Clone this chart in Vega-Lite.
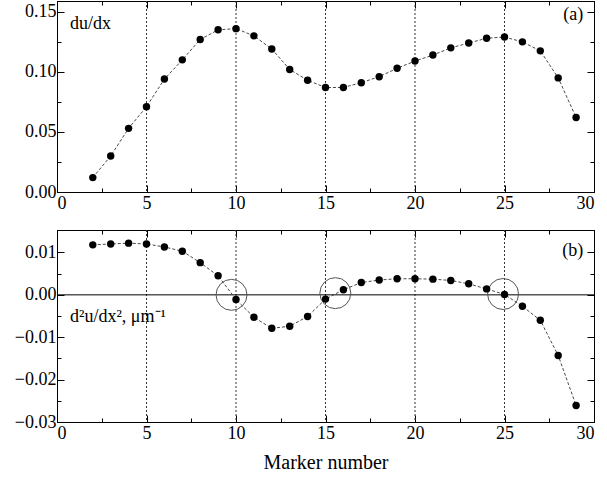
{
  "$schema": "https://vega.github.io/schema/vega-lite/v6.json",
  "autosize": {"type": "pad"},
  "padding": {"left": 13, "top": 0, "right": 5, "bottom": 3},
  "bounds": "flush",
  "spacing": 38,
  "config": {
    "view": {"stroke": "black", "strokeWidth": 1},
    "axis": {
      "labelFont": "Liberation Serif", "labelFontSize": 18, "labelColor": "black",
      "titleFont": "Liberation Serif", "titleFontSize": 20, "titleFontWeight": "normal", "titleColor": "black",
      "tickColor": "black", "domainColor": "black", "grid": false
    },
    "axisY": {"labelPadding": 8},
    "axisX": {"labelPadding": 9},
    "text": {"font": "Liberation Serif", "fontSize": 18, "color": "black"}
  },
  "datasets": {
    "du": [
      {"m": 2, "v": 0.012}, {"m": 3, "v": 0.030}, {"m": 4, "v": 0.053}, {"m": 5, "v": 0.071},
      {"m": 6, "v": 0.094}, {"m": 7, "v": 0.110}, {"m": 8, "v": 0.127}, {"m": 9, "v": 0.135},
      {"m": 10, "v": 0.136}, {"m": 11, "v": 0.130}, {"m": 12, "v": 0.119}, {"m": 13, "v": 0.102},
      {"m": 14, "v": 0.093}, {"m": 15, "v": 0.087}, {"m": 16, "v": 0.087}, {"m": 17, "v": 0.091},
      {"m": 18, "v": 0.096}, {"m": 19, "v": 0.103}, {"m": 20, "v": 0.109}, {"m": 21, "v": 0.114},
      {"m": 22, "v": 0.120}, {"m": 23, "v": 0.124}, {"m": 24, "v": 0.128}, {"m": 25, "v": 0.129},
      {"m": 26, "v": 0.125}, {"m": 27, "v": 0.1175}, {"m": 28, "v": 0.095}, {"m": 29, "v": 0.062}
    ],
    "d2u": [
      {"m": 2, "v": 0.0118}, {"m": 3, "v": 0.0120}, {"m": 4, "v": 0.0122}, {"m": 5, "v": 0.0120},
      {"m": 6, "v": 0.0113}, {"m": 7, "v": 0.0103}, {"m": 8, "v": 0.0076}, {"m": 9, "v": 0.0045},
      {"m": 10, "v": -0.0011}, {"m": 11, "v": -0.0053}, {"m": 12, "v": -0.0079}, {"m": 13, "v": -0.0074},
      {"m": 14, "v": -0.0051}, {"m": 15, "v": -0.0010}, {"m": 16, "v": 0.0012}, {"m": 17, "v": 0.0029},
      {"m": 18, "v": 0.0035}, {"m": 19, "v": 0.0038}, {"m": 20, "v": 0.0038}, {"m": 21, "v": 0.0037},
      {"m": 22, "v": 0.0034}, {"m": 23, "v": 0.0026}, {"m": 24, "v": 0.0014}, {"m": 25, "v": 0.0001},
      {"m": 26, "v": -0.0027}, {"m": 27, "v": -0.0060}, {"m": 28, "v": -0.0143}, {"m": 29, "v": -0.0261}
    ],
    "vgrid": [{"g": 5}, {"g": 10}, {"g": 15}, {"g": 20}, {"g": 25}],
    "zero": [{"z": 0}],
    "circles": [{"m": 9.75, "v": 0.0}, {"m": 15.55, "v": 0.0004}, {"m": 24.92, "v": 0.0002}],
    "labA1": [{"x": 0.73, "y": 0.14, "t": "du/dx"}],
    "labA2": [{"x": 29.4, "y": 0.1475, "t": "(a)"}],
    "labB1": [{"x": 0.73, "y": -0.0063, "t": "d²u/dx², μm⁻¹"}],
    "labB2": [{"x": 29.4, "y": 0.0104, "t": "(b)"}]
  },
  "vconcat": [
    {
      "width": 537, "height": 191,
      "layer": [
        {
          "data": {"name": "vgrid"},
          "mark": {"type": "rule", "color": "#333", "strokeDash": [2, 2], "strokeWidth": 1},
          "encoding": {
            "x": {"field": "g", "type": "quantitative", "scale": {"domain": [0, 30], "nice": false},
              "axis": {"orient": "bottom", "title": null, "values": [0, 2.5, 5, 7.5, 10, 12.5, 15, 17.5, 20, 22.5, 25, 27.5, 30],
                "labelExpr": "datum.value % 5 === 0 ? datum.label : ''",
                "tickSize": {"condition": {"test": "datum.value % 5 === 0", "value": -7}, "value": -4}}}
          }
        },
        {
          "data": {"name": "du"},
          "mark": {"type": "line", "color": "#333", "strokeWidth": 0.9, "strokeDash": [3, 2]},
          "encoding": {
            "x": {"field": "m", "type": "quantitative",
              "axis": {"orient": "top", "title": null, "labels": false, "values": [0, 2.5, 5, 7.5, 10, 12.5, 15, 17.5, 20, 22.5, 25, 27.5, 30],
                "tickSize": {"condition": {"test": "datum.value % 5 === 0", "value": -7}, "value": -4}}},
            "y": {"field": "v", "type": "quantitative", "scale": {"domain": [0, 0.159], "nice": false},
              "axis": {"orient": "left", "title": null, "format": ".2f", "values": [0, 0.025, 0.05, 0.075, 0.1, 0.125, 0.15],
                "labelExpr": "abs(datum.value*20 - round(datum.value*20)) < 1e-6 ? datum.label : ''",
                "tickSize": {"condition": {"test": "abs(datum.value*20 - round(datum.value*20)) < 1e-6", "value": -7}, "value": -4}}}
          }
        },
        {
          "data": {"name": "du"},
          "mark": {"type": "point", "filled": true, "color": "black", "size": 55, "opacity": 1},
          "encoding": {
            "x": {"field": "m", "type": "quantitative", "axis": null},
            "y": {"field": "v", "type": "quantitative",
              "axis": {"orient": "right", "title": null, "labels": false, "values": [0, 0.025, 0.05, 0.075, 0.1, 0.125, 0.15],
                "tickSize": {"condition": {"test": "abs(datum.value*20 - round(datum.value*20)) < 1e-6", "value": -7}, "value": -4}}}
          }
        },
        {
          "data": {"name": "labA1"},
          "mark": {"type": "text", "align": "left", "baseline": "middle"},
          "encoding": {
            "x": {"field": "x", "type": "quantitative", "axis": null},
            "y": {"field": "y", "type": "quantitative", "axis": null},
            "text": {"field": "t"}
          }
        },
        {
          "data": {"name": "labA2"},
          "mark": {"type": "text", "align": "right", "baseline": "middle"},
          "encoding": {
            "x": {"field": "x", "type": "quantitative", "axis": null},
            "y": {"field": "y", "type": "quantitative", "axis": null},
            "text": {"field": "t"}
          }
        }
      ],
      "resolve": {"axis": {"x": "independent", "y": "independent"}}
    },
    {
      "width": 537, "height": 192,
      "layer": [
        {
          "data": {"name": "vgrid"},
          "mark": {"type": "rule", "color": "#333", "strokeDash": [2, 2], "strokeWidth": 1},
          "encoding": {
            "x": {"field": "g", "type": "quantitative", "scale": {"domain": [0, 30], "nice": false},
              "axis": {"orient": "bottom", "title": "Marker number", "titlePadding": 10, "values": [0, 2.5, 5, 7.5, 10, 12.5, 15, 17.5, 20, 22.5, 25, 27.5, 30],
                "labelExpr": "datum.value % 5 === 0 ? datum.label : ''",
                "tickSize": {"condition": {"test": "datum.value % 5 === 0", "value": -7}, "value": -4}}}
          }
        },
        {
          "data": {"name": "zero"},
          "mark": {"type": "rule", "color": "black", "strokeWidth": 1},
          "encoding": {
            "y": {"field": "z", "type": "quantitative", "axis": null}
          }
        },
        {
          "data": {"name": "circles"},
          "mark": {"type": "point", "shape": "circle", "filled": false, "stroke": "#555", "strokeWidth": 1, "size": 960, "opacity": 1},
          "encoding": {
            "x": {"field": "m", "type": "quantitative", "axis": null},
            "y": {"field": "v", "type": "quantitative", "axis": null}
          }
        },
        {
          "data": {"name": "d2u"},
          "mark": {"type": "line", "color": "#333", "strokeWidth": 0.9, "strokeDash": [3, 2]},
          "encoding": {
            "x": {"field": "m", "type": "quantitative",
              "axis": {"orient": "top", "title": null, "labels": false, "values": [0, 2.5, 5, 7.5, 10, 12.5, 15, 17.5, 20, 22.5, 25, 27.5, 30],
                "tickSize": {"condition": {"test": "datum.value % 5 === 0", "value": -7}, "value": -4}}},
            "y": {"field": "v", "type": "quantitative", "scale": {"domain": [-0.03, 0.0153], "nice": false},
              "axis": {"orient": "left", "title": null, "format": ".2f", "values": [-0.03, -0.025, -0.02, -0.015, -0.01, -0.005, 0, 0.005, 0.01],
                "labelExpr": "abs(datum.value*100 - round(datum.value*100)) < 1e-6 ? datum.label : ''",
                "tickSize": {"condition": {"test": "abs(datum.value*100 - round(datum.value*100)) < 1e-6", "value": -7}, "value": -4}}}
          }
        },
        {
          "data": {"name": "d2u"},
          "mark": {"type": "point", "filled": true, "color": "black", "size": 55, "opacity": 1},
          "encoding": {
            "x": {"field": "m", "type": "quantitative", "axis": null},
            "y": {"field": "v", "type": "quantitative",
              "axis": {"orient": "right", "title": null, "labels": false, "values": [-0.03, -0.025, -0.02, -0.015, -0.01, -0.005, 0, 0.005, 0.01],
                "tickSize": {"condition": {"test": "abs(datum.value*100 - round(datum.value*100)) < 1e-6", "value": -7}, "value": -4}}}
          }
        },
        {
          "data": {"name": "labB1"},
          "mark": {"type": "text", "align": "left", "baseline": "alphabetic"},
          "encoding": {
            "x": {"field": "x", "type": "quantitative", "axis": null},
            "y": {"field": "y", "type": "quantitative", "axis": null},
            "text": {"field": "t"}
          }
        },
        {
          "data": {"name": "labB2"},
          "mark": {"type": "text", "align": "right", "baseline": "middle"},
          "encoding": {
            "x": {"field": "x", "type": "quantitative", "axis": null},
            "y": {"field": "y", "type": "quantitative", "axis": null},
            "text": {"field": "t"}
          }
        }
      ],
      "resolve": {"axis": {"x": "independent", "y": "independent"}}
    }
  ]
}
